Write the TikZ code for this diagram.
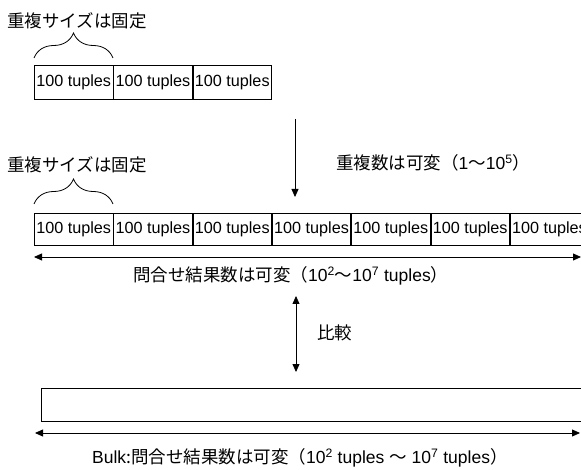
\documentclass[tikz,border=0pt]{standalone}
\usepackage{fontspec}
\setmainfont{Liberation Sans}
\newfontfamily\jp{Noto Sans CJK JP}
\usetikzlibrary{arrows.meta,decorations.pathreplacing}
\begin{document}
\begin{tikzpicture}[x=1pt,y=-1pt,
  font=\fontsize{17.5}{21}\selectfont,
  cell/.style={draw=black,line width=0.8pt,minimum width=78.5pt,minimum height=32pt,inner sep=0pt,anchor=north west,font=\fontsize{16.2}{19}\selectfont},
  lbl/.style={anchor=west,inner sep=0pt},
  arr/.style={line width=0.8pt,-{Triangle[length=8pt,width=7pt]}},
  darr/.style={line width=0.8pt,{Triangle[length=8pt,width=7pt]}-{Triangle[length=8pt,width=7pt]}},
  brc/.style={line width=0.8pt,decorate,decoration={brace,amplitude=25pt,aspect=0.5}}]
\useasboundingbox (0,0) rectangle (581,470);
\clip (0,0) rectangle (581,470);
% titles
\node[lbl] (t1) at (7,20.5) {\jp 重複サイズは固定};
\node[lbl] (t2) at (7,165) {\jp 重複サイズは固定};
\node[lbl] (t3) at (336,163) {{\jp 重複数は可変（}1{\jp 〜}10\textsuperscript{5}{\jp ）}};
% braces
\coordinate (b1l) at (34,58);
\coordinate (b1r) at (113,58);
\coordinate (b2l) at (34,204);
\coordinate (b2r) at (113,204);
\draw[brc] (b1l) -- (b1r);
\draw[brc] (b2l) -- (b2r);
% row 1
\node[cell,minimum height=34pt] (r1a) at (34,65) {100 tuples};
\node[cell,minimum height=34pt] (r1b) at (r1a.north east) {100 tuples};
\node[cell,minimum height=34pt] (r1c) at (r1b.north east) {100 tuples};
% row 2
\node[cell] (r2a) at (34,213) {100 tuples};
\node[cell] (r2b) at (r2a.north east) {100 tuples};
\node[cell] (r2c) at (r2b.north east) {100 tuples};
\node[cell] (r2d) at (r2c.north east) {100 tuples};
\node[cell] (r2e) at (r2d.north east) {100 tuples};
\node[cell] (r2f) at (r2e.north east) {100 tuples};
\node[cell] (r2g) at (r2f.north east) {100 tuples};
% down arrow
\coordinate (d1) at (295,119);
\coordinate (d2) at (295,197);
\draw[arr] (d1) -- (d2);
% range arrow 1
\coordinate (h1l) at (34,257);
\coordinate (h1r) at (581,257);
\draw[darr] (h1l) -- (h1r);
\node[lbl] (l1) at (133,276) {{\jp 問合せ結果数は可変（}10\textsuperscript{2}{\jp 〜}10\textsuperscript{7} tuples{\jp ）}};
% compare arrow
\coordinate (c1) at (296,296);
\coordinate (c2) at (296,372);
\draw[darr] (c1) -- (c2);
\node[lbl] (cmp) at (317,333) {\jp 比較};
% bulk box
\node[draw=black,line width=0.8pt,anchor=north west,minimum width=560pt,minimum height=33pt,inner sep=0pt] (bulk) at (41,388) {};
\coordinate (h2l) at (35,433);
\coordinate (h2r) at (580,433);
\draw[darr] (h2l) -- (h2r);
\node[lbl] (l2) at (92,458) {Bulk{\jp :問合せ結果数は可変（}10\textsuperscript{2} tuples {\jp ～} 10\textsuperscript{7} tuples{\jp ）}};
\end{tikzpicture}
\end{document}
